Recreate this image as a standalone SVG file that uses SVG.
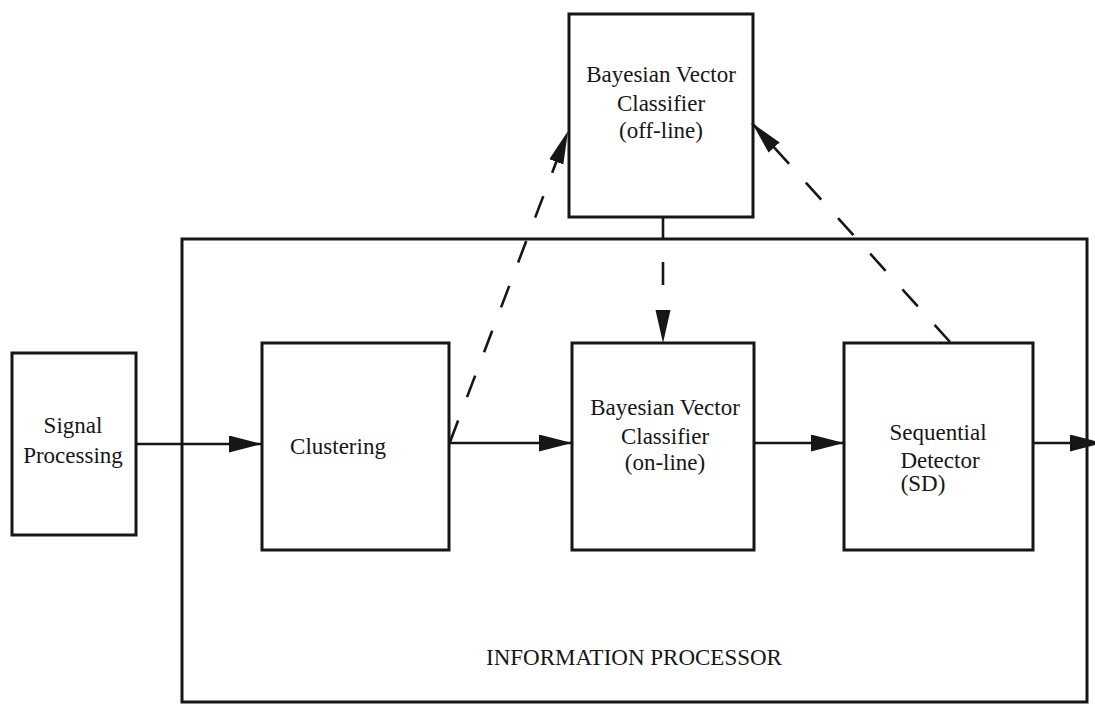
<svg xmlns="http://www.w3.org/2000/svg" width="1095" height="704" viewBox="0 0 1095 704">
  <style>
    .box { fill: #ffffff; stroke: #161616; stroke-width: 3; }
    .frame { fill: none; stroke: #161616; stroke-width: 3; }
    .wire { fill: none; stroke: #161616; stroke-width: 2.6; }
    .dash { fill: none; stroke: #161616; stroke-width: 2.6; stroke-dasharray: 23 25; }
    text { font-family: "Liberation Serif", "Times New Roman", serif; font-size: 23px; fill: #161616; text-anchor: middle; }
  </style>
  <defs>
    <marker id="head" markerUnits="userSpaceOnUse" markerWidth="34" markerHeight="18" refX="33" refY="8.5" orient="auto">
      <path d="M0,0 L33,8.5 L0,17 z" fill="#161616"/>
    </marker>
    <marker id="headDash" markerUnits="userSpaceOnUse" markerWidth="34" markerHeight="18" refX="33" refY="8" orient="auto">
      <path d="M0,0.5 L33,8 L0,15.5 z" fill="#161616"/>
    </marker>
  </defs>

  <rect width="1095" height="704" fill="#ffffff"/>

  <!-- enclosing information processor -->
  <g id="information-processor">
    <rect class="frame" x="182" y="239" width="905" height="463"/>
    <text x="634" y="665">INFORMATION PROCESSOR</text>
  </g>

  <g id="offline-classifier">
    <rect class="box" x="569" y="14" width="184" height="203"/>
    <text x="661" y="82">Bayesian Vector</text>
    <text x="661" y="111">Classifier</text>
    <text x="661" y="138">(off-line)</text>
  </g>

  <g id="signal-processing">
    <rect class="box" x="12" y="353" width="124" height="182"/>
    <text x="73" y="433">Signal</text>
    <text x="73" y="463">Processing</text>
  </g>

  <g id="clustering">
    <rect class="box" x="262" y="343" width="187" height="207"/>
    <text x="338" y="454">Clustering</text>
  </g>

  <g id="online-classifier">
    <rect class="box" x="572" y="343" width="182" height="207"/>
    <text x="665" y="415">Bayesian Vector</text>
    <text x="665" y="444">Classifier</text>
    <text x="665" y="470">(on-line)</text>
  </g>

  <g id="sequential-detector">
    <rect class="box" x="844" y="343" width="189" height="207"/>
    <text x="938" y="440">Sequential</text>
    <text x="940" y="468">Detector</text>
    <text x="923" y="491">(SD)</text>
  </g>

  <g id="connectors">
    <!-- stem joining the off-line classifier to the processor frame -->
    <line class="wire" x1="663" y1="217" x2="663" y2="239"/>
    <!-- main signal path -->
    <line class="wire" x1="136" y1="444" x2="262" y2="444" marker-end="url(#head)"/>
    <line class="wire" x1="449" y1="443" x2="572" y2="443" marker-end="url(#head)"/>
    <line class="wire" x1="754" y1="443" x2="844" y2="443" marker-end="url(#head)"/>
    <line class="wire" x1="1033" y1="443" x2="1103" y2="443" marker-end="url(#head)"/>
    <!-- off-line training links -->
    <line class="dash" x1="450" y1="442" x2="568" y2="131" marker-end="url(#headDash)"/>
    <line class="dash" x1="950" y1="342" x2="752" y2="123" marker-end="url(#headDash)"/>
    <line class="dash" x1="663" y1="262" x2="663" y2="343" stroke-dasharray="25 60" marker-end="url(#headDash)"/>
  </g>
</svg>
